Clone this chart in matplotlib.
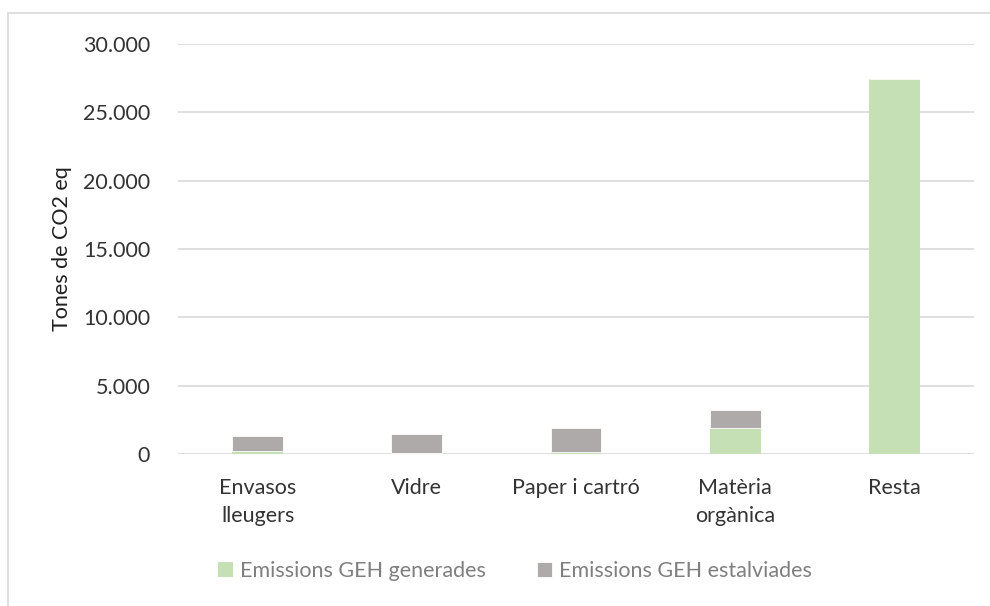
import matplotlib
matplotlib.use("Agg")
import matplotlib.pyplot as plt
from matplotlib.patches import Rectangle
from matplotlib.ticker import FuncFormatter

# Data (tones de CO2 eq)
categories = ["Envasos\nlleugers", "Vidre", "Paper i cartró", "Matèria\norgànica", "Resta"]
generades = [250, 100, 170, 1910, 27450]
estalviades = [1090, 1360, 1760, 1310, 0]
series_labels = ["Emissions GEH generades", "Emissions GEH estalviades"]

green = "#C5E0B4"
grey = "#AEAAAA"
text_col = "#333333"

plt.rcParams["font.family"] = ["Lato", "DejaVu Sans"]

fig = plt.figure(figsize=(9.9, 6.06), dpi=100)
ax = fig.add_axes([178 / 990, 1 - 454 / 606, (974 - 178) / 990, (454 - 44) / 606])

# outer chart border
fig.patches.append(Rectangle((8 / 990, -0.1), 1.1, 1 - 13 / 606 + 0.1,
                             transform=fig.transFigure, fill=False,
                             edgecolor="#D9D9D9", linewidth=1.2))

x = range(len(categories))
width = 0.32
ax.bar(x, generades, width, color=green, label=series_labels[0], zorder=3)
ax.bar(x, estalviades, width, bottom=generades, color=grey,
       label=series_labels[1], zorder=3, edgecolor="white", linewidth=0.6)

ax.set_xlim(-0.5, len(categories) - 0.5)
ax.set_ylim(0, 30000)
ax.set_yticks(range(0, 30001, 5000))
ax.yaxis.set_major_formatter(FuncFormatter(lambda v, p: f"{int(v):,}".replace(",", ".")))
ax.set_xticks(list(x))
ax.set_xticklabels(categories, fontsize=15.5, color=text_col, linespacing=1.5)
ax.tick_params(axis="y", labelsize=15.5, labelcolor=text_col, length=0, pad=20)
ax.tick_params(axis="x", length=0, pad=17)
ax.grid(axis="y", color="#D9D9D9", linewidth=1.2, zorder=0)
for s in ax.spines.values():
    s.set_visible(False)

ax.set_ylabel("Tones de CO2 eq", fontsize=15.5, color="#202020", labelpad=8)

fig.legend(loc="center", bbox_to_anchor=(515 / 990, 1 - 571 / 606), ncol=2,
           frameon=False, fontsize=15.5, labelcolor="#7F7F7F",
           handlelength=0.7, handleheight=0.7, handletextpad=0.3, columnspacing=2.4)

fig.savefig("out.png", dpi=100)
